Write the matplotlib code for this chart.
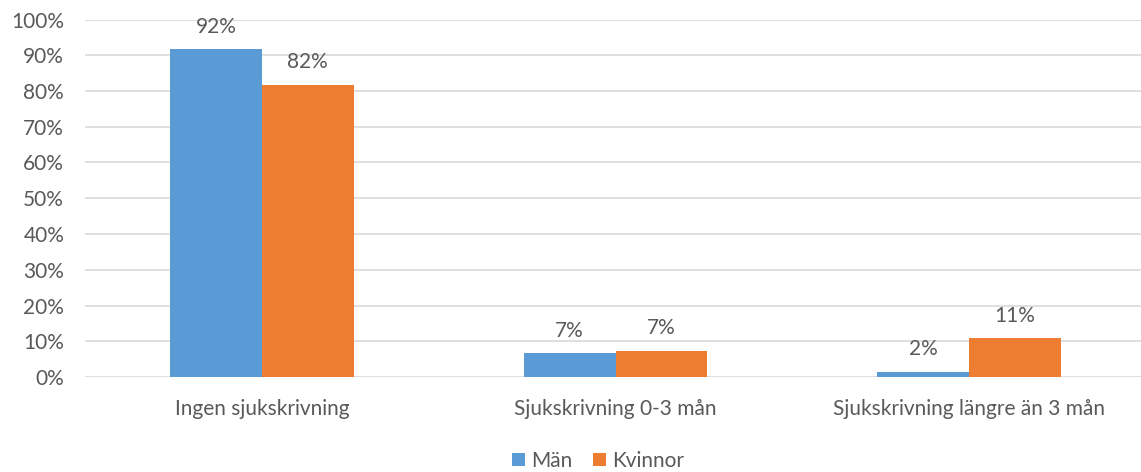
import numpy as np
import matplotlib.pyplot as plt

categories = ['Ingen sjukskrivning', 'Sjukskrivning 0-3 mån', 'Sjukskrivning längre än 3 mån']
man = [0.917, 0.066, 0.015]
kvinnor = [0.817, 0.073, 0.108]
man_labels = ['92%', '7%', '2%']
kvinnor_labels = ['82%', '7%', '11%']

plt.rcParams['font.family'] = ['Lato', 'DejaVu Sans']
txt = '#595959'
fs = 15

fig = plt.figure(figsize=(11.41, 4.72), dpi=100)
# axis runs a bit past the right edge, like the original
ax = fig.add_axes([85 / 1141, 95 / 472, 1061 / 1141, 357.5 / 472])

x = np.arange(len(categories))
w = 0.26
b1 = ax.bar(x - w / 2, man, width=w, color='#5B9BD5', label='Män', zorder=3)
b2 = ax.bar(x + w / 2, kvinnor, width=w, color='#ED7D31', label='Kvinnor', zorder=3)

for bars, labs in [(b1, man_labels), (b2, kvinnor_labels)]:
    for b, lab in zip(bars, labs):
        ax.annotate(lab, (b.get_x() + b.get_width() / 2, b.get_height()),
                    xytext=(0, 9), textcoords='offset points',
                    ha='center', va='bottom', fontsize=fs, color=txt)

ax.set_xlim(-0.5, 2.5)
ax.set_ylim(0, 1)
ax.set_yticks(np.arange(0, 1.01, 0.1))
ax.set_yticklabels([f'{int(round(v * 100))}%' for v in np.arange(0, 1.01, 0.1)])
ax.set_xticks(x)
ax.set_xticklabels(categories)
ax.tick_params(axis='both', length=0, labelsize=fs, labelcolor=txt)
ax.tick_params(axis='x', pad=16)
ax.tick_params(axis='y', pad=15)
ax.grid(axis='y', color='#D9D9D9', linewidth=1.2, zorder=0)
ax.set_axisbelow(True)
for s in ax.spines.values():
    s.set_visible(False)

fig.legend(loc='center', bbox_to_anchor=(598 / 1141, 11 / 472), ncol=2, frameon=False,
           fontsize=fs, labelcolor=txt, handlelength=0.6, handleheight=0.6,
           handletextpad=0.3, columnspacing=1.0)

fig.savefig('out.png', dpi=100)
